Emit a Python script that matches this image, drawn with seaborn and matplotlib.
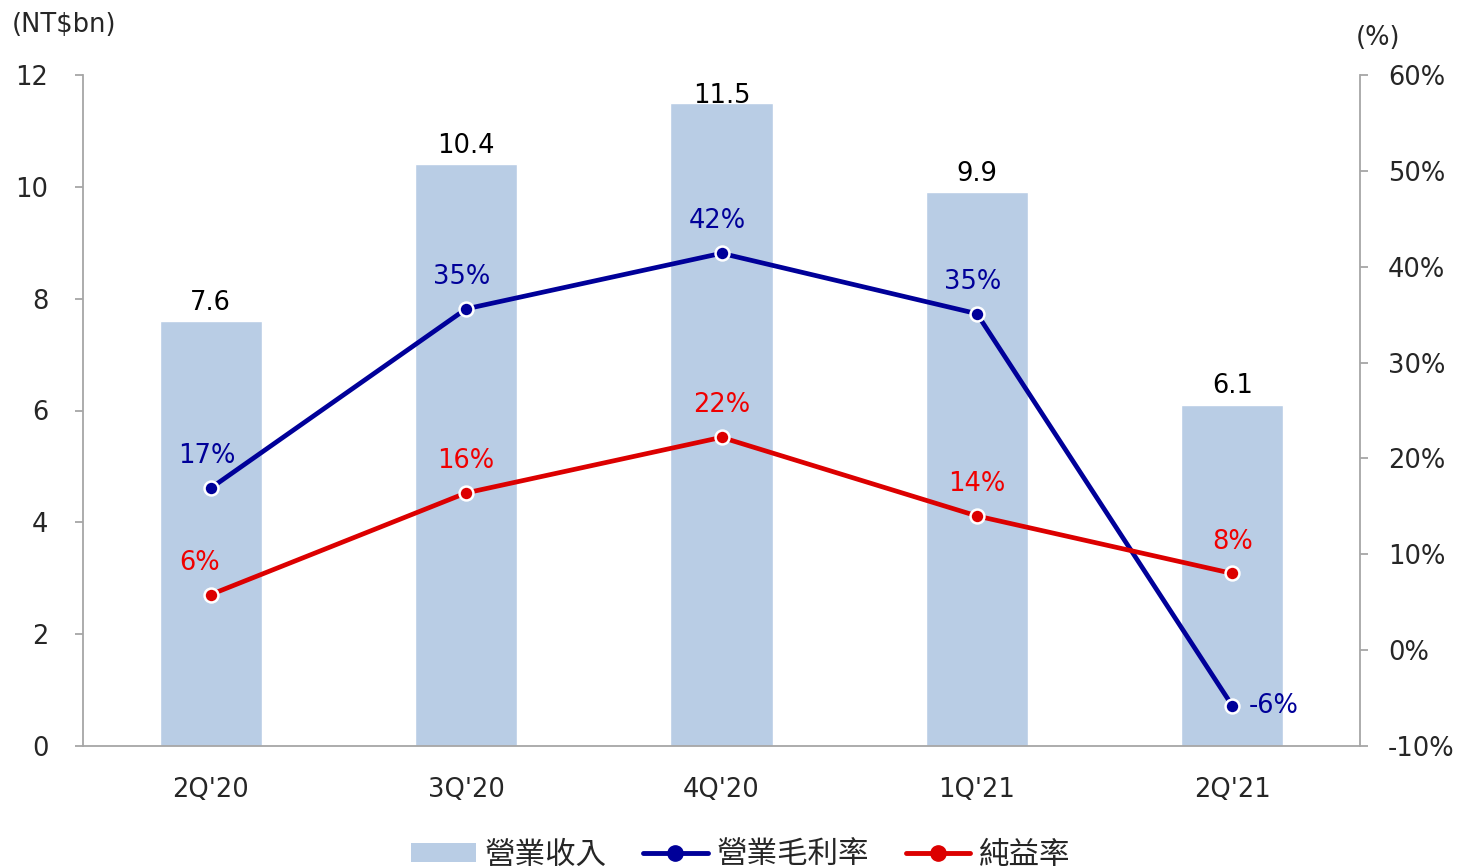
import matplotlib.pyplot as plt
import seaborn as sns
import pandas as pd
from matplotlib.lines import Line2D
from matplotlib.patches import Patch

# Data
quarters = ["2Q'20", "3Q'20", "4Q'20", "1Q'21", "2Q'21"]
revenue = [7.6, 10.4, 11.5, 9.9, 6.1]
gross_margin = [16.9, 35.6, 41.4, 35.1, -5.8]
net_margin = [5.8, 16.4, 22.2, 14.0, 8.0]
gross_labels = ["17%", "35%", "42%", "35%", "-6%"]
net_labels = ["6%", "16%", "22%", "14%", "8%"]
legend_names = ["營業收入", "營業毛利率", "純益率"]

bar_color = "#B9CDE5"
blue = "#000099"
red = "#DC0000"
red_text = "#F00000"
axis_gray = "#A6A6A6"
FS = 18.5

sns.set_style("white")
plt.rcParams["font.family"] = ["DejaVu Sans", "Noto Sans CJK TC"]

df = pd.DataFrame({"q": quarters, "rev": revenue, "gm": gross_margin, "nm": net_margin})

fig = plt.figure(figsize=(14.58, 8.68), dpi=100)
ax = fig.add_axes([83 / 1458, 1 - 746 / 868, (1360 - 83) / 1458, (746 - 75) / 868])

sns.barplot(data=df, x="q", y="rev", color=bar_color, width=0.4, saturation=1, ax=ax)
ax.set_xlim(-0.5, 4.5)
ax.set_ylim(0, 12)
ax.set_yticks(range(0, 13, 2))
ax.set_xlabel("")
ax.set_ylabel("")

# value labels above bars (kept inside the plot area like the original)
for i, v in enumerate(revenue):
    ax.text(i, min(v + 0.33, 11.63), f"{v}", ha="center", va="center",
            fontsize=FS, color="black")

ax2 = ax.twinx()
x_pos = list(range(len(quarters)))
sns.lineplot(x=x_pos, y=gross_margin, color=blue, linewidth=3.4, marker="o",
             markersize=10, markeredgecolor="white", markeredgewidth=1.8, ax=ax2, zorder=3)
sns.lineplot(x=x_pos, y=net_margin, color=red, linewidth=3.4, marker="o",
             markersize=10, markeredgecolor="white", markeredgewidth=1.8, ax=ax2, zorder=3)
ax2.set_ylim(-10, 60)
ax2.set_yticks(range(-10, 61, 10))
ax2.set_yticklabels([f"{t}%" for t in range(-10, 61, 10)])
ax2.set_xlim(-0.5, 4.5)

for i, (v, lab) in enumerate(zip(gross_margin, gross_labels)):
    if i == len(gross_margin) - 1:
        ax2.annotate(lab, (i, v), xytext=(12, 0), textcoords="offset points",
                     ha="left", va="center", fontsize=FS, color=blue)
    else:
        ax2.annotate(lab, (i, v), xytext=(-3, 23), textcoords="offset points",
                     ha="center", va="center", fontsize=FS, color=blue)
for i, (v, lab) in enumerate(zip(net_margin, net_labels)):
    ax2.annotate(lab, (i, v), xytext=(-8 if i == 0 else 0, 23), textcoords="offset points",
                 ha="center", va="center", fontsize=FS, color=red_text)

# Axes styling
for a in (ax, ax2):
    for s in a.spines.values():
        s.set_visible(False)
ax.spines["left"].set_visible(True)
ax.spines["bottom"].set_visible(True)
ax2.spines["right"].set_visible(True)
for s in (ax.spines["left"], ax.spines["bottom"], ax2.spines["right"]):
    s.set_color(axis_gray)
    s.set_linewidth(1.3)

ax.set_xticks([-0.5, 0.5, 1.5, 2.5, 3.5, 4.5], minor=False)
ax.set_xticklabels([])
ax.set_xticks(range(len(quarters)), minor=True)
ax.set_xticklabels(quarters, minor=True)
ax.tick_params(axis="x", which="major", length=6, color=axis_gray, width=1.3)
ax.tick_params(axis="x", which="minor", length=0, labelsize=FS, pad=22)
ax.tick_params(axis="y", length=6, color=axis_gray, width=1.3, labelsize=FS, pad=19)
ax2.tick_params(axis="y", length=6, color=axis_gray, width=1.3, labelsize=FS, pad=14)
ax2.grid(False)
ax.grid(False)

fig.text(12 / 1458, 1 - 25 / 868, "(NT$bn)", fontsize=FS, ha="left", va="center")
fig.text(1378 / 1458, 1 - 38 / 868, "(%)", fontsize=FS, ha="center", va="center")

handles = [
    Patch(facecolor=bar_color, edgecolor="none"),
    Line2D([0], [0], color=blue, linewidth=3.5, marker="o", markersize=11),
    Line2D([0], [0], color=red, linewidth=3.5, marker="o", markersize=11),
]
fig.legend(handles, legend_names, loc="center", bbox_to_anchor=(741 / 1458, 1 - 855 / 868),
           ncol=3, frameon=False, handlelength=2.1, handleheight=0.6, columnspacing=1.2,
           handletextpad=0.3, prop={"family": ["Noto Sans CJK TC"], "size": 22})

fig.savefig("out.png", dpi=100)
